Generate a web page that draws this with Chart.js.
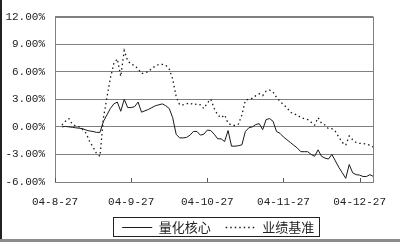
<!DOCTYPE html>
<html>
<head>
<meta charset="utf-8">
<script src="https://cdn.jsdelivr.net/npm/chart.js@4.4.1/dist/chart.umd.min.js"></script>
<style>
  html, body { margin: 0; padding: 0; background: #fff; }
  #wrap { width: 400px; height: 242px; }
</style>
</head>
<body>
<div id="wrap"><canvas id="grafico" width="400" height="242"></canvas></div>
<script>
// eixo x: dias de negociacao (0..92), so alguns com rotulo
let tickIdx = [0, 22, 44, 66, 88]
let tickLabels = ['04-8-27', '04-9-27', '04-10-27', '04-11-27', '04-12-27']

// 量化核心 (%), null = sem dado
let liangHua = [null, null,
  0.0, 0.05, 0.0, -0.05, -0.1, -0.15, -0.2, -0.35, -0.45, -0.5,
  -0.6, -0.6, 0.6, 1.3, 2.0, 2.5, 2.7, 1.7, 3.0, 2.1,
  2.1, 2.2, 2.7, 1.6, 1.75, 1.9, 2.1, 2.3, 2.4, 2.5,
  2.3, 2.0, 1.0, -0.8, -1.2, -1.2, -1.15, -0.9, -0.5, -0.5,
  -0.9, -0.8, -0.35, -0.4, -0.8, -1.3, -1.3, -1.6, -0.4, -2.1,
  -2.1, -2.05, -1.95, -0.5, -0.1, 0.0, 0.25, 0.35, -0.3, 0.8,
  0.9, 0.6, -0.5, -0.7, -1.1, -1.4, -1.7, -2.0, -2.3, -2.7,
  -2.7, -2.7, -3.0, -3.2, -2.5, -3.2, -3.4, -3.5, -3.0, -3.7,
  -4.4, -5.0, -5.6, -4.1, -5.0, -5.2, -5.25, -5.4, -5.4, -5.2,
  -5.4]

// 业绩基准 (%)
let jiZhun = [null, null,
  0.2, 0.6, 0.9, 0.3, 0.1, 0.0, -0.3, -0.7, -1.6, -2.2,
  -2.9, -3.2, 1.0, 3.2, 5.3, 6.9, 7.4, 5.5, 8.3, 7.2,
  6.8, 6.7, 6.3, 5.8, 5.9, 6.0, 6.4, 6.6, 6.8, 6.8,
  6.7, 6.3, 5.2, 3.3, 2.4, 2.4, 2.5, 2.6, 2.4, 2.5,
  2.4, 2.0, 2.6, 3.0, 2.0, 1.3, 1.0, 1.3, 0.4, 0.2,
  0.15, 0.3, 1.3, 2.9, 3.0, 3.1, 3.4, 3.6, 3.4, 3.9,
  4.0, 3.8, 3.2, 2.8, 2.4, 2.1, 1.6, 1.4, 1.3, 1.0,
  0.9, 0.8, 0.5, 0.2, 1.0, 0.4, 0.2, -0.2, -0.2, -0.5,
  -1.1, -1.7, -2.0, -1.0, -1.4, -1.7, -1.8, -1.8, -1.9, -2.0,
  -2.2]

let yMin = -6, yMax = 12, yStep = 3

const fonteNum = { family: 'Liberation Mono', size: 11 }

// moldura, marcas do eixo x e caixa da legenda
const moldura = {
  id: 'moldura',
  beforeDraw(chart) {
    const ctx = chart.ctx
    ctx.save()
    ctx.fillStyle = '#fff'
    ctx.fillRect(0, 0, chart.width, chart.height)
    ctx.restore()
  },
  afterLayout(chart) {
    // legenda um pouco para a direita, como no original
    chart.legend.left += 4
    chart.legend.right += 4
  },
  afterDatasetsDraw(chart) {
    const ctx = chart.ctx
    const a = chart.chartArea
    const x = chart.scales.x
    ctx.save()
    ctx.strokeStyle = '#808080'
    ctx.lineWidth = 1
    ctx.strokeRect(Math.round(a.left) + 0.5, Math.round(a.top) + 0.5, Math.round(a.right - a.left), Math.round(a.bottom - a.top))
    ctx.strokeStyle = '#555'
    tickIdx.forEach(i => {
      const px = Math.round(x.getPixelForValue(i)) + 0.5
      ctx.beginPath()
      ctx.moveTo(px, a.bottom)
      ctx.lineTo(px, a.bottom - 4)
      ctx.stroke()
    })
    ctx.restore()
  },
  afterDraw(chart) {
    const ctx = chart.ctx
    const hb = chart.legend.legendHitBoxes
    ctx.save()
    if (hb && hb.length) {
      const first = hb[0], last = hb[hb.length - 1]
      const l = first.left - 9, r = last.left + last.width + 5
      ctx.strokeStyle = '#222'
      ctx.lineWidth = 1
      ctx.strokeRect(Math.round(l) + 0.5, Math.round(first.top) - 3.5, Math.round(r - l), Math.round(first.height) + 6)
    }
    ctx.fillStyle = '#222'
    ctx.fillRect(0, 0, 2, chart.height)
    ctx.fillStyle = '#8c8c8c'
    ctx.fillRect(0, chart.height - 3, chart.width, 3)
    ctx.restore()
  }
}

const grafico = document.getElementById('grafico')

new Chart(grafico, {
  type: 'line',
  data: {
    datasets: [{
      label: '量化核心',
      data: liangHua.map((v, i) => ({ x: i, y: v })),
      borderColor: '#1a1a1a',
      backgroundColor: '#1a1a1a',
      borderWidth: 1,
      pointRadius: 0,
      tension: 0,
      pointStyle: 'line'
    }, {
      label: '业绩基准',
      data: jiZhun.map((v, i) => ({ x: i, y: v })),
      borderColor: '#1a1a1a',
      backgroundColor: '#1a1a1a',
      borderWidth: 1.3,
      borderDash: [1.5, 3],
      pointRadius: 0,
      tension: 0,
      pointStyle: 'line'
    }]
  },
  options: {
    responsive: false,
    animation: false,
    layout: { padding: { left: 0, right: 23, top: 8, bottom: 0 } },
    scales: {
      x: {
        type: 'linear',
        min: 0,
        max: 92,
        afterBuildTicks: scale => { scale.ticks = tickIdx.map(v => ({ value: v })) },
        afterFit: scale => { scale.height = 24 },
        grid: { display: false, drawTicks: false },
        border: { display: false },
        ticks: {
          autoSkip: false,
          maxRotation: 0,
          color: '#222',
          font: fonteNum,
          padding: 13,
          callback: (v) => tickLabels[tickIdx.indexOf(v)]
        }
      },
      y: {
        min: yMin,
        max: yMax,
        afterFit: scale => { scale.width = 55 },
        grid: { color: '#808080', drawTicks: false, lineWidth: 1 },
        border: { display: false },
        ticks: {
          stepSize: yStep,
          color: '#222',
          font: fonteNum,
          padding: 10,
          callback: v => v.toFixed(2) + '%'
        }
      }
    },
    plugins: {
      legend: {
        position: 'bottom',
        fullSize: false,
        maxHeight: 36,
        labels: {
          usePointStyle: true,
          pointStyleWidth: 30,
          boxWidth: 30,
          boxHeight: 8,
          padding: 15,
          color: '#222',
          font: { family: 'Noto Sans CJK SC', size: 13 },
          generateLabels: chart => {
            const itens = Chart.defaults.plugins.legend.labels.generateLabels(chart)
            itens.forEach(it => {
              const ds = chart.data.datasets[it.datasetIndex]
              it.lineDash = ds.borderDash || []
              it.lineWidth = ds.borderWidth
            })
            return itens
          }
        }
      },
      tooltip: { enabled: false }
    }
  },
  plugins: [moldura]
})
</script>
</body>
</html>
